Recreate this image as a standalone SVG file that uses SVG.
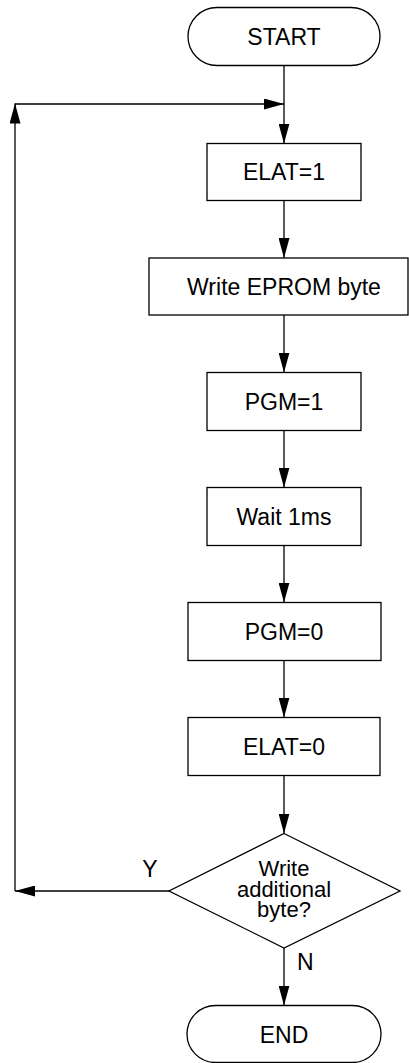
<svg xmlns="http://www.w3.org/2000/svg" width="409" height="1063" viewBox="0 0 409 1063">
<defs>
<style>
.shape{fill:#fff;stroke:#000;stroke-width:1.3}
.line{fill:none;stroke:#000;stroke-width:1.3}
.t{font-family:"Liberation Sans",Arial,Helvetica,sans-serif;font-size:23px;fill:#000;text-anchor:middle}
.d{font-family:"Liberation Sans",Arial,Helvetica,sans-serif;font-size:22px;fill:#000;text-anchor:middle}
.lbl{font-family:"Liberation Sans",Arial,Helvetica,sans-serif;font-size:23px;fill:#000}
</style>
<marker id="arr" markerUnits="userSpaceOnUse" markerWidth="21" markerHeight="11" refX="20" refY="5.5" orient="auto" viewBox="0 0 21 11">
<path d="M0,0 L20,5.5 L0,11 z" fill="#000"/>
</marker>
</defs>
<rect width="409" height="1063" fill="#fff"/>
<g id="connectors">
<path class="line" d="M284,65.5 V143.5" marker-end="url(#arr)"/>
<path class="line" d="M15,104 H284" marker-end="url(#arr)"/>
<path class="line" d="M284,200.5 V258" marker-end="url(#arr)"/>
<path class="line" d="M284,315 V372.5" marker-end="url(#arr)"/>
<path class="line" d="M284,430 V487.5" marker-end="url(#arr)"/>
<path class="line" d="M284,545 V602.5" marker-end="url(#arr)"/>
<path class="line" d="M284,660 V717.5" marker-end="url(#arr)"/>
<path class="line" d="M284,775 V833.5" marker-end="url(#arr)"/>
<path class="line" d="M284,948 V1005.5" marker-end="url(#arr)"/>
<path class="line" d="M169,891 H15" marker-end="url(#arr)"/>
<path class="line" d="M15,891 V103.5" marker-end="url(#arr)"/>
<text class="lbl" x="150" y="877" text-anchor="middle">Y</text>
<text class="lbl" x="297" y="970">N</text>
</g>
<g id="start">
<rect class="shape" x="188" y="7.5" width="192" height="58" rx="29" ry="29"/>
<text class="t" x="284" y="45">START</text>
</g>
<g id="elat1">
<rect class="shape" x="207" y="143.5" width="154" height="57"/>
<text class="t" x="284" y="180">ELAT=1</text>
</g>
<g id="write">
<rect class="shape" x="149" y="258" width="259" height="57"/>
<text class="t" x="284" y="294.5">Write EPROM byte</text>
</g>
<g id="pgm1">
<rect class="shape" x="207" y="372.5" width="154" height="58"/>
<text class="t" x="284" y="409.5">PGM=1</text>
</g>
<g id="wait">
<rect class="shape" x="207" y="487.5" width="154" height="58"/>
<text class="t" x="284" y="524.5">Wait 1ms</text>
</g>
<g id="pgm0">
<rect class="shape" x="188" y="602.5" width="193" height="58"/>
<text class="t" x="284" y="639.5">PGM=0</text>
</g>
<g id="elat0">
<rect class="shape" x="188" y="717.5" width="192" height="58"/>
<text class="t" x="284" y="754.5">ELAT=0</text>
</g>
<g id="decision">
<path class="shape" d="M284,833.5 L400,891 L284,948 L169,891 Z"/>
<text class="d" x="284" y="875.5">Write</text>
<text class="d" x="284" y="897">additional</text>
<text class="d" x="284" y="917">byte?</text>
</g>
<g id="end">
<rect class="shape" x="187" y="1005.5" width="194" height="57" rx="28.5" ry="28.5"/>
<text class="t" x="284" y="1042.5">END</text>
</g>
</svg>
